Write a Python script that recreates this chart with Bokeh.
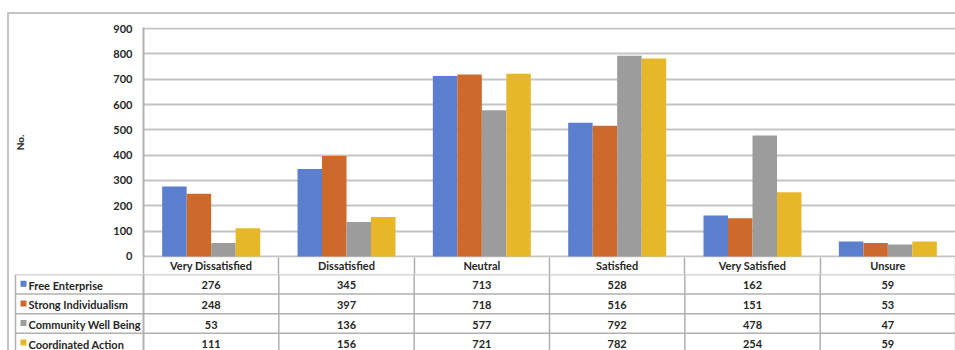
from bokeh.plotting import figure
from bokeh.layouts import column, row
from bokeh.models import Range1d, FixedTicker, ColumnDataSource
from bokeh.core.properties import value
from bokeh.embed import file_html
from bokeh.resources import INLINE

# ---- data -------------------------------------------------------------
categories = ["Very Dissatisfied", "Dissatisfied", "Neutral",
              "Satisfied", "Very Satisfied", "Unsure"]
series_names = ["Free Enterprise", "Strong Individualism",
                "Community Well Being", "Coordinated Action"]
free_enterprise = [276, 345, 713, 528, 162, 59]
strong_individualism = [248, 397, 718, 516, 151, 53]
community_well_being = [53, 136, 577, 792, 478, 47]
coordinated_action = [111, 156, 721, 782, 254, 59]
y_ticks = [0, 100, 200, 300, 400, 500, 600, 700, 800, 900]
y_axis_title = "No."

series_values = [free_enterprise, strong_individualism,
                 community_well_being, coordinated_action]
colors = ["#5b7fce", "#cd6a2b", "#9c9c9c", "#e6b728"]

# ---- layout constants ---------------------------------------------------
FONT = "Lato"
TEXT_COLOR = "#262626"
LINE_COLOR = "#b0b0b0"
CONTENT_W = 946          # width inside the outer border
LEFT_PAD = 134           # room for the y axis / row-label column
PLOT_W = CONTENT_W - LEFT_PAD
HEADER_H = 17            # header row of the table (x-axis labels)
TOP_H = 13 + 230 + HEADER_H
ROW_H = 19.6
BOTTOM_H = 76
N = len(categories)
CAT_PX = PLOT_W / N      # pixels per category
BAR_W = 0.181            # bar width in category units


def px_to_cat(px):
    """Horizontal pixel distance -> category units."""
    return px / CAT_PX


# ---- bar chart with the table's header row as its x axis ----------------
top = figure(width=CONTENT_W, height=TOP_H,
             x_range=Range1d(0, N), y_range=Range1d(-4, 904),
             min_border_left=LEFT_PAD, min_border_right=0,
             min_border_top=13, min_border_bottom=HEADER_H,
             x_axis_location="below", y_axis_location="left",
             output_backend="svg", toolbar_location=None)
top.outline_line_color = None
top.background_fill_color = "white"
top.border_fill_color = "white"
top.xgrid.visible = False
top.ygrid.ticker = FixedTicker(ticks=y_ticks)
top.ygrid.grid_line_color = "#c4c4c4"
top.ygrid.grid_line_width = 2

yax = top.yaxis[0]
yax.ticker = FixedTicker(ticks=y_ticks)
yax.axis_line_color = LINE_COLOR
yax.axis_line_width = 2
yax.major_tick_line_color = None
yax.minor_tick_line_color = None
yax.major_tick_out = 0
yax.major_tick_in = 0
yax.major_label_standoff = 11
yax.major_label_text_font = FONT
yax.major_label_text_font_style = "bold"
yax.major_label_text_font_size = "11px"
yax.major_label_text_color = TEXT_COLOR
yax.axis_label = y_axis_title
yax.axis_label_text_font = FONT
yax.axis_label_text_font_style = "bold"
yax.axis_label_text_font_size = "10px"
yax.axis_label_text_color = TEXT_COLOR
yax.axis_label_standoff = 84

# header row: category names centred in their columns, separators as minor ticks
centers = [i + 0.5 for i in range(N)]
boundaries = list(range(N + 1))
xax = top.xaxis[0]
xax.ticker = FixedTicker(ticks=centers, minor_ticks=boundaries)
xax.major_label_overrides = {c: name for c, name in zip(centers, categories)}
xax.axis_line_color = None
xax.major_tick_line_color = None
xax.major_tick_out = 0
xax.major_tick_in = 0
xax.minor_tick_line_color = LINE_COLOR
xax.minor_tick_line_width = 1.5
xax.minor_tick_out = HEADER_H
xax.minor_tick_in = 0
xax.major_label_standoff = -HEADER_H + 1
xax.major_label_text_font = FONT
xax.major_label_text_font_style = "bold"
xax.major_label_text_font_size = "11px"
xax.major_label_text_color = TEXT_COLOR

for k, (vals, col) in enumerate(zip(series_values, colors)):
    offset = (k - 1.5) * BAR_W
    src = ColumnDataSource(dict(x=[c + offset for c in centers], top=vals))
    top.vbar(x="x", top="top", bottom=0, width=BAR_W, source=src,
             fill_color=col, line_color=None)

# ---- data rows of the table ----------------------------------------------
bottom = figure(width=CONTENT_W, height=BOTTOM_H,
                x_range=Range1d(-px_to_cat(LEFT_PAD), N),
                y_range=Range1d(BOTTOM_H, 0),
                min_border_left=0, min_border_right=0,
                min_border_top=0, min_border_bottom=0,
                x_axis_location=None, y_axis_location=None,
                output_backend="svg", toolbar_location=None)
bottom.outline_line_color = None
bottom.grid.visible = False
bottom.border_fill_color = "white"

table_left = -px_to_cat(LEFT_PAD - 6)
row_edges = [ROW_H * r for r in range(len(series_names) + 1)]

# horizontal rules
bottom.segment(x0=[table_left] * len(row_edges), x1=[N] * len(row_edges),
               y0=row_edges, y1=row_edges, line_color=LINE_COLOR, line_width=1.5)
# vertical rules: row-label column and category columns
bottom.segment(x0=[table_left] + boundaries[1:], x1=[table_left] + boundaries[1:],
               y0=[0] * (N + 1), y1=[BOTTOM_H] * (N + 1),
               line_color=LINE_COLOR, line_width=1.5)
bottom.segment(x0=[0], x1=[0], y0=[0], y1=[BOTTOM_H],
               line_color=LINE_COLOR, line_width=2)

text_kw = dict(text_font=value(FONT), text_font_style="bold",
               text_font_size="11px", text_color=TEXT_COLOR,
               text_baseline="middle")

row_centers = [ROW_H * (r + 0.5) + 1 for r in range(len(series_names))]
bottom.scatter(x=[-px_to_cat(LEFT_PAD - 14)] * len(series_names),
               y=[c - 1.5 for c in row_centers], marker="square", size=6,
               fill_color=colors, line_color=None)
bottom.text(x=[-px_to_cat(LEFT_PAD - 19)] * len(series_names), y=row_centers,
            text=series_names, text_align="left", **text_kw)

for r, vals in enumerate(series_values):
    bottom.text(x=centers, y=[row_centers[r]] * N,
                text=[str(v) for v in vals], text_align="center", **text_kw)

page = column(top, row(bottom), spacing=0,
              styles={"margin-left": "7px", "margin-top": "12px",
                      "border-left": "2px solid #c4c4c4",
                      "border-top": "2px solid #c4c4c4"})

open("out.html", "w").write(file_html(page, INLINE))
